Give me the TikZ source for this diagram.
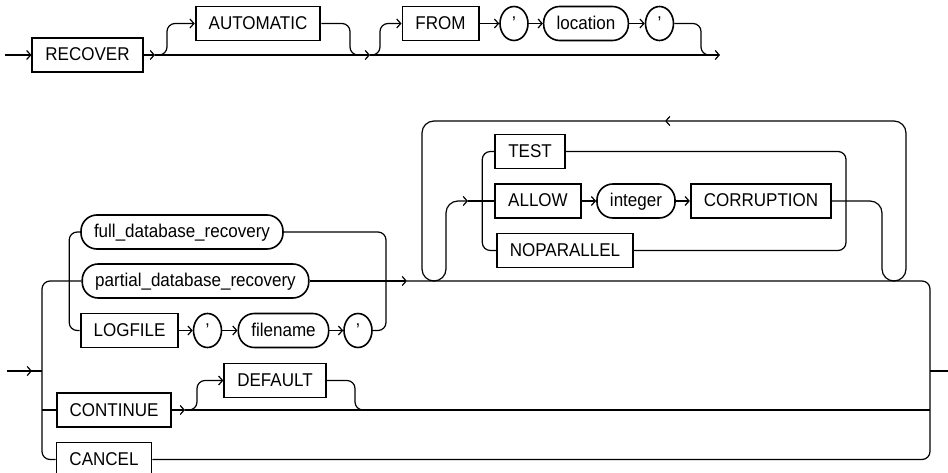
\documentclass[tikz,border=0pt]{standalone}
\usepackage{fontspec}
\setmainfont[FakeStretch=0.92]{Liberation Sans}
\usetikzlibrary{arrows.meta,shapes.geometric}

\begin{document}
\begin{tikzpicture}[
  x=1pt, y=-1pt,
  kw/.style={draw, line width=1.9pt, inner xsep=13pt, inner ysep=0pt, minimum height=34pt, text height=13pt, text depth=1pt, font=\fontsize{18.5}{21}\selectfont},
  var/.style={kw, line width=1.6pt, rounded corners=16pt},
  quot/.style={draw, ellipse, line width=1.6pt, inner sep=0pt, minimum width=28pt, minimum height=34pt, text height=13pt, text depth=1pt, font=\fontsize{18.5}{21}\selectfont},
  rail/.style={line width=1.2pt, rounded corners=8pt},
  >={Straight Barb[length=4pt,width=9pt]}
]
\useasboundingbox (0,0) rectangle (948,473);

% RECOVER [AUTOMATIC] [FROM 'location']
\node[kw] (recover) at (87.5,55) {RECOVER};
\node[kw] (automatic) at (258,23.5) {AUTOMATIC};
\node[kw] (from) at (440.5,23.5) {FROM};
\node[quot] (fq1) at (514,23.5) {'};
\node[var] (location) at (586,23.5) {location};
\node[quot] (fq2) at (659.5,23.5) {'};
\coordinate (start1) at (5,55);
\coordinate (fork1) at (155,55);
\coordinate (fork2) at (370,55);
\coordinate (end1) at (720,55);

\draw[rail,->] (start1) -- (recover);
\draw[rail,->] (recover) -- (fork1);
\draw[rail,->] (fork1) -- (fork2);
\draw[rail,->] (fork2) -- (end1);
\draw[rail,->] (fork1) -| ++(12,-31.5) -- (automatic);
\draw[rail] (automatic) -| (350,55) -- (360,55);
\draw[rail,->] (fork2) -| ++(10,-31.5) -- (from);
\draw[rail,->] (from) -- (fq1);
\draw[rail,->] (fq1) -- (location);
\draw[rail,->] (location) -- (fq2);
\draw[rail] (fq2) -| (701,55) -- (711,55);

% recovery clauses
\node[var] (full) at (182,232) {full\_database\_recovery};
\node[var] (partial) at (195.5,281) {partial\_database\_recovery};
\node[kw] (logfile) at (129.5,330.5) {LOGFILE};
\node[quot] (lq1) at (207.5,330.5) {'};
\node[var] (filename) at (283.5,330.5) {filename};
\node[quot] (lq2) at (358,330.5) {'};
\node[kw] (continue) at (114,410) {CONTINUE};
\node[kw] (default) at (275,380.5) {DEFAULT};
\node[kw] (cancel) at (104,459.5) {CANCEL};
\coordinate (start2) at (7,371);
\coordinate (lsplit) at (42,371);
\coordinate (grpR) at (386,281);
\coordinate (arr1) at (407,281);
\coordinate (cfork) at (185,410);
\coordinate (rjoin) at (930,371);
\coordinate (end2) at (948,371);

\draw[rail,->] (start2) -- ++(25,0);
\draw[rail] (start2) -- (lsplit);
\draw[rail] (lsplit) |- (partial);
\draw[rail] (lsplit) |- (cancel);
\draw[rail] (lsplit |- continue) -- (continue);
\draw[rail] (full.west) -- ++(-11,0) |- (logfile);
\draw[rail,->] (logfile) -- (lq1);
\draw[rail,->] (lq1) -- (filename);
\draw[rail,->] (filename) -- (lq2);
\draw[rail] (full) -| (grpR) |- (lq2);
\draw[rail,->] (partial) -- (arr1);
\draw[rail] (arr1) -| (rjoin) |- (cancel);
\draw[rail] (rjoin) -- (end2);
\draw[rail,->] (continue) -- (cfork);
\draw[rail] (cfork) -- (rjoin |- continue);
\draw[rail,->] (cfork) -| ++(12,-29.5) -- (default);
\draw[rail] (default) -| (355,410) -- ++(10,0);

% repeated options
\node[kw] (test) at (530,151.5) {TEST};
\node[kw] (allow) at (538,201) {ALLOW};
\node[var] (integer) at (636,201) {integer};
\node[kw] (corruption) at (761,201) {CORRUPTION};
\node[kw] (noparallel) at (565,250.5) {NOPARALLEL};

\draw[rail] (test.west) -- ++(-12,0) |- (noparallel);
\draw[rail] (test) -| (846,201) |- (noparallel);
\draw[rail,->] (allow) -- (integer);
\draw[rail,->] (integer) -- (corruption);
\draw[rail,->,rounded corners=12pt] (corruption) -| (882,281) -| (906,121) -- (665,121);
\draw[rail,->,rounded corners=12pt] (665,121) -| (422,281) -| (446,201) -- (468,201);
\draw[rail] (468,201) -- (allow);
\end{tikzpicture}
\end{document}
